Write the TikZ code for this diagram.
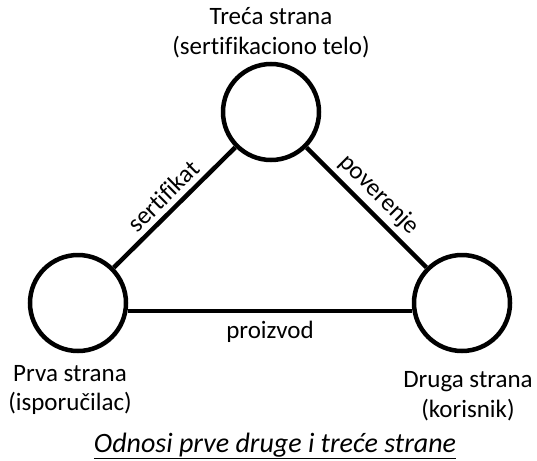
\documentclass[tikz,border=0pt]{standalone}
\usepackage{fontspec}
\setmainfont{Carlito}[Ligatures=CommonOff]
\begin{document}
\begin{tikzpicture}[x=1pt,y=-1pt,
  party/.style={circle,draw,line width=4.5pt,minimum size=96pt,inner sep=0pt},
  link/.style={line width=4.5pt},
  lbl/.style={font=\fontsize{25}{30}\selectfont,inner sep=5pt},
  ptext/.style={font=\fontsize{25}{30}\selectfont,inner sep=0pt,anchor=base}]
\useasboundingbox (0,0) rectangle (537,460);

% the three parties
\node[party] (T) at (271,112) {};
\node[party] (L) at (78,303) {};
\node[party] (R) at (462,303) {};

% relations between them
\draw[link] (L) -- node[lbl,above,sloped,pos=0.5] {sertifikat} (T);
\draw[link] (T) -- node[lbl,above,sloped,pos=0.5] {poverenje} (R);
\draw[link] (L.-9.5) -- node[lbl,below,pos=0.5,inner sep=8pt] {proizvod} (R.189.5);

% captions of the parties
\node[ptext] (tt1) at (271,25) {Treća strana};
\node[ptext] (tt2) at (271,54) {(sertifikaciono telo)};
\node[ptext] (lt1) at (70,381) {Prva strana};
\node[ptext] (lt2) at (70,410) {(isporučilac)};
\node[ptext] (rt1) at (468,387) {Druga strana};
\node[ptext] (rt2) at (468,417) {(korisnik)};

% title
\node[ptext,font=\fontsize{28}{34}\selectfont] (title) at (275,452)
  {\underline{\textit{Odnosi prve druge i treće strane}}};
\end{tikzpicture}
\end{document}
